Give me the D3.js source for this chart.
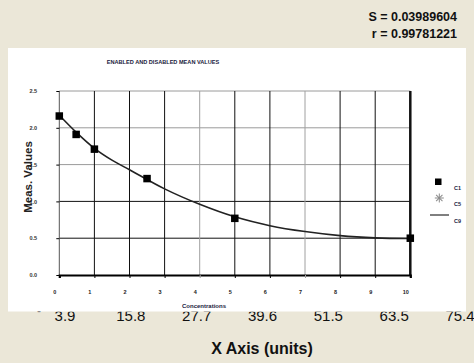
<!DOCTYPE html>
<html>
<head>
<meta charset="utf-8">
<script src="https://cdn.jsdelivr.net/npm/d3@7"></script>
<style>
  html, body { margin: 0; padding: 0; background: #ebe7d8; }
  svg { display: block; font-family: "Liberation Sans", Arial, sans-serif; }
</style>
</head>
<body>
<svg id="chart" width="474" height="363"></svg>
<script>
// Data
const conc = [0.0, 0.48, 1.0, 2.5, 5.0, 10.0];
const meas = [2.16, 1.91, 1.71, 1.31, 0.77, 0.50];
// fitted curve, read at each unit
const fitX = [0, 0.5, 1, 1.5, 2, 3, 4, 5, 6, 7, 8, 9, 10];
const fitY = [2.17, 1.93, 1.72, 1.56, 1.43, 1.17, 0.96, 0.79, 0.67, 0.59, 0.535, 0.505, 0.495];
const xTicks = [0, 1, 2, 3, 4, 5, 6, 7, 8, 9, 10];
const yTicks = [0.0, 0.5, 1.0, 1.5, 2.0, 2.5];
const outerLabels = ['3.9', '15.8', '27.7', '39.6', '51.5', '63.5', '75.4'];
const legendNames = ['C1', 'C5', 'C9'];
const statS = 'S = 0.03989604';
const statR = 'r = 0.99781221';

const svg = d3.select('#chart');

// Panel bounds
const panel = { x: 8, y: 48, w: 458, h: 263.5 };

// Outer axis labels, top part hidden by the white panel
svg.append('defs').append('clipPath').attr('id', 'below-panel')
    .append('rect').attr('x', 0).attr('y', panel.y + panel.h).attr('width', 474).attr('height', 30);
const outer = d3.scalePoint().domain(outerLabels).range([65, 460]);
svg.append('g')
    .attr('clip-path', 'url(#below-panel)')
    .selectAll('text')
    .data(outerLabels)
    .enter()
    .append('text')
    .attr('x', (d) => outer(d))
    .attr('y', 320.5)
    .attr('text-anchor', 'middle')
    .attr('font-size', 15)
    .attr('fill', '#111')
    .text((d) => d);
svg.append('text').attr('x', 39).attr('y', 315).attr('text-anchor', 'middle')
    .attr('font-size', 12).attr('fill', '#111').text('-');

svg.append('text')
    .attr('x', 262).attr('y', 354)
    .attr('text-anchor', 'middle')
    .attr('font-size', 16).attr('font-weight', 'bold').attr('fill', '#111')
    .text('X Axis (units)');

// Stats
svg.append('text').attr('x', 457).attr('y', 21).attr('text-anchor', 'end')
    .attr('font-size', 12.5).attr('font-weight', 'bold').attr('fill', '#111').text(statS);
svg.append('text').attr('x', 457).attr('y', 38).attr('text-anchor', 'end')
    .attr('font-size', 12.5).attr('font-weight', 'bold').attr('fill', '#111').text(statR);

// White panel
svg.append('rect').attr('x', panel.x).attr('y', panel.y).attr('width', panel.w).attr('height', panel.h).attr('fill', '#fff');

// Scales
const x = d3.scaleLinear().domain([0, 10]).range([59.3, 410.3]);
const y = d3.scaleLinear().domain([0, 2.5]).range([275, 91]);

const grayX = [4, 7];
const grayY = [2.0, 1.5, 2.5];

const plot = svg.append('g');

// Horizontal grid
plot.selectAll('.hgrid')
    .data(yTicks.filter((d) => d > 0))
    .enter()
    .append('line')
    .attr('x1', x(0)).attr('x2', x(10))
    .attr('y1', (d) => y(d)).attr('y2', (d) => y(d))
    .attr('stroke', (d) => grayY.includes(d) ? '#9a9a9a' : '#111')
    .attr('stroke-width', 1);

// Vertical grid
plot.selectAll('.vgrid')
    .data(xTicks)
    .enter()
    .append('line')
    .attr('x1', (d) => x(d)).attr('x2', (d) => x(d))
    .attr('y1', y(2.5)).attr('y2', y(0))
    .attr('stroke', (d) => grayX.includes(d) ? '#a0a0a0' : (d === 0 ? '#555' : '#111'))
    .attr('stroke-width', (d) => d === 10 ? 2.5 : 1);

// X axis
const xAxis = plot.append('g')
    .attr('transform', 'translate(0,' + y(0) + ')')
    .call(d3.axisBottom(x).tickValues(xTicks).tickSize(3).tickFormat(d3.format('d')));
xAxis.select('.domain').attr('stroke', '#000').attr('stroke-width', 2.2);
xAxis.selectAll('.tick line').attr('stroke', (d) => grayX.includes(d) ? '#a0a0a0' : '#000');
xAxis.selectAll('.tick text')
    .attr('x', -5).attr('y', 15)
    .attr('font-size', 5.5).attr('font-weight', 'bold').attr('fill', '#222')
    .attr('font-family', '"Liberation Sans", Arial, sans-serif');

// Y axis
const yAxis = plot.append('g')
    .attr('transform', 'translate(' + x(0) + ',0)')
    .call(d3.axisLeft(y).tickValues(yTicks).tickSize(3).tickFormat(d3.format('.1f')));
yAxis.select('.domain').remove();
yAxis.selectAll('.tick line').attr('stroke', '#000');
yAxis.selectAll('.tick text')
    .attr('x', -26).attr('text-anchor', 'middle')
    .attr('font-size', 5.5).attr('font-weight', 'bold').attr('fill', '#333')
    .attr('font-family', '"Liberation Sans", Arial, sans-serif');

// Fitted curve
const line = d3.line().x((d) => x(d[0])).y((d) => y(d[1])).curve(d3.curveMonotoneX);
plot.append('path')
    .datum(d3.zip(fitX, fitY))
    .attr('d', line)
    .attr('fill', 'none')
    .attr('stroke', '#222')
    .attr('stroke-width', 1.6);

// Markers
const ms = 7.5;
plot.selectAll('.pt')
    .data(d3.zip(conc, meas))
    .enter()
    .append('rect')
    .attr('x', (d) => x(d[0]) - ms / 2)
    .attr('y', (d) => y(d[1]) - ms / 2)
    .attr('width', ms).attr('height', ms)
    .attr('fill', '#000');

// Titles
svg.append('text').attr('x', 163).attr('y', 64).attr('text-anchor', 'middle')
    .attr('font-size', 5.6).attr('font-weight', 'bold').attr('fill', '#1a1a40')
    .text('ENABLED AND DISABLED MEAN VALUES');
svg.append('text').attr('x', 204).attr('y', 308).attr('text-anchor', 'middle')
    .attr('font-size', 6).attr('font-weight', 'bold').attr('fill', '#1a1a40')
    .text('Concentrations');
svg.append('text')
    .attr('transform', 'translate(32,177) rotate(-90)')
    .attr('text-anchor', 'middle')
    .attr('font-size', 11.5).attr('font-weight', 'bold').attr('fill', '#222')
    .text('Meas. Values');

// Legend
const ly = d3.scalePoint().domain(legendNames).range([187.5, 220.5]);
const legend = svg.append('g');
legend.selectAll('text')
    .data(legendNames)
    .enter()
    .append('text')
    .attr('x', 454).attr('y', (d) => ly(d) + 2)
    .attr('font-size', 5.5).attr('font-weight', 'bold').attr('fill', '#1a1a40')
    .text((d) => d);
legend.append('rect').attr('x', 435).attr('y', ly('C1') - 9).attr('width', 6.5).attr('height', 6.5).attr('fill', '#000');
// eight-spoke star for C5
const star = legend.append('g').attr('transform', 'translate(439.3,' + (ly('C5') - 6) + ')');
star.selectAll('line')
    .data([0, 45, 90, 135])
    .enter()
    .append('line')
    .attr('x1', -4.5).attr('x2', 4.5).attr('y1', 0).attr('y2', 0)
    .attr('transform', (d) => 'rotate(' + d + ')')
    .attr('stroke', '#8a8a8a').attr('stroke-width', 1);
legend.append('line')
    .attr('x1', 430).attr('x2', 449)
    .attr('y1', ly('C9') - 5.5).attr('y2', ly('C9') - 5.5)
    .attr('stroke', '#000').attr('stroke-width', 1);
</script>
</body>
</html>
